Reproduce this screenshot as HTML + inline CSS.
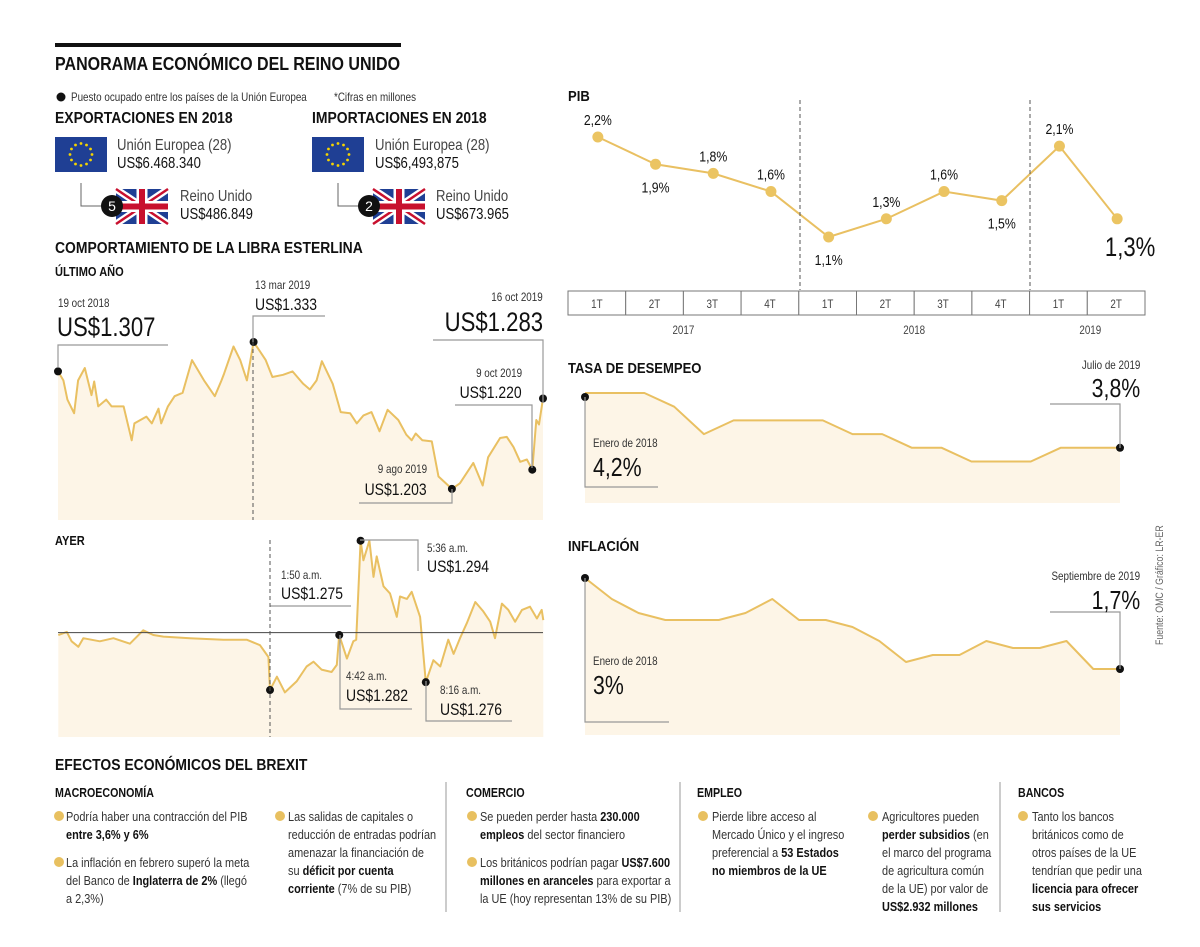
<!DOCTYPE html>
<html><head><meta charset="utf-8">
<style>
html,body{margin:0;padding:0;background:#fff;}
#root{position:relative;width:1200px;height:947px;overflow:hidden;font-family:"Liberation Sans",sans-serif;color:#111;}
.t{position:absolute;white-space:nowrap;line-height:1;transform:scaleX(0.82);transform-origin:left top;}
.b{font-weight:bold;}
.h{transform:scaleX(0.87);}
.r{text-align:right;transform-origin:right top;}
.sm{font-size:12px;color:#333;}
.bul{position:absolute;font-size:13px;line-height:18px;color:#333;white-space:nowrap;transform:scaleX(0.84);transform-origin:left top;}
.bul b{color:#111;}
.dot{position:absolute;width:10px;height:10px;border-radius:50%;background:#e8c060;}
svg text{font-family:"Liberation Sans",sans-serif;}
</style></head>
<body>
<div id="root">
<svg id="chart" width="1200" height="947" style="position:absolute;left:0;top:0">
  <rect x="55" y="43" width="346" height="4" fill="#111"/>
  <circle cx="61" cy="97" r="4.5" fill="#111"/>
  <g>
    <rect x="55" y="137" width="52" height="35" fill="#1f3f94"/>
    <g id="stars1" fill="#f5d400"></g>
  </g>
  <g>
    <rect x="312" y="137" width="52" height="35" fill="#1f3f94"/>
    <g id="stars2" fill="#f5d400"></g>
  </g>
  <g transform="translate(116,189)">
    <rect width="52" height="35" fill="#1f3f94"/>
    <path d="M0,0L52,35M52,0L0,35" stroke="#fff" stroke-width="7"/>
    <path d="M0,0L52,35M52,0L0,35" stroke="#c8102e" stroke-width="2.5"/>
    <path d="M26,0V35M0,17.5H52" stroke="#fff" stroke-width="11"/>
    <path d="M26,0V35M0,17.5H52" stroke="#c8102e" stroke-width="6"/>
  </g>
  <g transform="translate(373,189)">
    <rect width="52" height="35" fill="#1f3f94"/>
    <path d="M0,0L52,35M52,0L0,35" stroke="#fff" stroke-width="7"/>
    <path d="M0,0L52,35M52,0L0,35" stroke="#c8102e" stroke-width="2.5"/>
    <path d="M26,0V35M0,17.5H52" stroke="#fff" stroke-width="11"/>
    <path d="M26,0V35M0,17.5H52" stroke="#c8102e" stroke-width="6"/>
  </g>
  <path d="M81,183V206H104" fill="none" stroke="#666"/>
  <path d="M338,183V206H362" fill="none" stroke="#666"/>
  <circle cx="112" cy="206" r="11" fill="#111"/>
  <text x="112" y="211" fill="#fff" font-size="14" text-anchor="middle">5</text>
  <circle cx="369" cy="206" r="11" fill="#111"/>
  <text x="369" y="211" fill="#fff" font-size="14" text-anchor="middle">2</text>

  <g id="yearG"></g>
  <g id="dayG"></g>
  <g id="pibG"></g>
  <g id="unG"></g>
  <g id="infG"></g>

  <g fill="none" stroke="#999" stroke-width="1.2">
    <path d="M58,367V345H168"/>
    <path d="M253,342V316H325"/>
    <path d="M543,403V340H433"/>
    <path d="M532,468V405H455"/>
    <path d="M452,489V503H359"/>
    <path d="M270,606H351"/>
    <path d="M360,540H418V571"/>
    <path d="M340,635V709H412"/>
    <path d="M426,681V721H512"/>
    <path d="M585,397V487H658"/>
    <path d="M1120,448V404H1050"/>
    <path d="M585,578V722H669"/>
    <path d="M1120,669V612H1050"/>
    <path d="M446,782V912M680,782V912M1000,782V912" stroke="#aaa"/>
  </g>
  <g stroke="#555" stroke-dasharray="4,3" stroke-width="1">
    <path d="M253,342V520"/>
    <path d="M270,540V737"/>
    <path d="M800,100V290"/>
    <path d="M1030,100V290"/>
  </g>
  <text x="0" y="0" font-size="11" fill="#666" transform="translate(1163,645) rotate(-90) scale(0.8,1)">Fuente: OMC / Gráfico: LR-ER</text>
</svg>

<div class="t b" style="left:55px;top:55px;font-size:18px;transform:scaleX(0.89)">PANORAMA ECONÓMICO DEL REINO UNIDO</div>
<div class="t sm" style="left:71px;top:91px">Puesto ocupado entre los países de la Unión Europea</div>
<div class="t sm" style="left:334px;top:91px">*Cifras en millones</div>
<div class="t b h" style="left:55px;top:111px;font-size:16px">EXPORTACIONES EN 2018</div>
<div class="t b h" style="left:312px;top:111px;font-size:16px">IMPORTACIONES EN 2018</div>
<div class="t" style="left:117px;top:138px;font-size:16px;color:#444">Unión Europea (28)</div>
<div class="t" style="left:117px;top:156px;font-size:16px">US$6.468.340</div>
<div class="t" style="left:180px;top:189px;font-size:16px;color:#444">Reino Unido</div>
<div class="t" style="left:180px;top:207px;font-size:16px">US$486.849</div>
<div class="t" style="left:375px;top:138px;font-size:16px;color:#444">Unión Europea (28)</div>
<div class="t" style="left:375px;top:156px;font-size:16px">US$6,493,875</div>
<div class="t" style="left:436px;top:189px;font-size:16px;color:#444">Reino Unido</div>
<div class="t" style="left:436px;top:207px;font-size:16px">US$673.965</div>
<div class="t b h" style="left:55px;top:241px;font-size:16px">COMPORTAMIENTO DE LA LIBRA ESTERLINA</div>
<div class="t b h" style="left:55px;top:265px;font-size:13px;transform:scaleX(0.85)">ÚLTIMO AÑO</div>

<div class="t sm" style="left:58px;top:297px">19 oct 2018</div>
<div class="t" style="left:57px;top:314px;font-size:27px">US$1.307</div>
<div class="t sm" style="left:255px;top:279px">13 mar 2019</div>
<div class="t" style="left:255px;top:296px;font-size:17px">US$1.333</div>
<div class="t sm r" style="right:657px;top:291px">16 oct 2019</div>
<div class="t r" style="right:657px;top:309px;font-size:27px">US$1.283</div>
<div class="t sm r" style="right:678px;top:367px">9 oct 2019</div>
<div class="t r" style="right:678px;top:384px;font-size:17px">US$1.220</div>
<div class="t sm r" style="right:773px;top:463px">9 ago 2019</div>
<div class="t r" style="right:773px;top:481px;font-size:17px">US$1.203</div>

<div class="t b h" style="left:55px;top:534px;font-size:13px;transform:scaleX(0.85)">AYER</div>
<div class="t sm" style="left:281px;top:569px">1:50 a.m.</div>
<div class="t" style="left:281px;top:585px;font-size:17px">US$1.275</div>
<div class="t sm" style="left:427px;top:542px">5:36 a.m.</div>
<div class="t" style="left:427px;top:558px;font-size:17px">US$1.294</div>
<div class="t sm" style="left:346px;top:670px">4:42 a.m.</div>
<div class="t" style="left:346px;top:687px;font-size:17px">US$1.282</div>
<div class="t sm" style="left:440px;top:684px">8:16 a.m.</div>
<div class="t" style="left:440px;top:701px;font-size:17px">US$1.276</div>

<div class="t b h" style="left:568px;top:89px;font-size:15px">PIB</div>
<div class="t b h" style="left:568px;top:361px;font-size:15px">TASA DE DESEMPEO</div>
<div class="t sm r" style="right:60px;top:359px">Julio de 2019</div>
<div class="t r" style="right:60px;top:375px;font-size:26px">3,8%</div>
<div class="t sm" style="left:593px;top:437px">Enero de 2018</div>
<div class="t" style="left:593px;top:454px;font-size:26px">4,2%</div>
<div class="t b h" style="left:568px;top:539px;font-size:15px">INFLACIÓN</div>
<div class="t sm r" style="right:60px;top:570px">Septiembre de 2019</div>
<div class="t r" style="right:60px;top:587px;font-size:26px">1,7%</div>
<div class="t sm" style="left:593px;top:655px">Enero de 2018</div>
<div class="t" style="left:593px;top:672px;font-size:26px">3%</div>

<div class="t b h" style="left:55px;top:758px;font-size:16px">EFECTOS ECONÓMICOS DEL BREXIT</div>
<div class="t b" style="left:55px;top:786px;font-size:13px">MACROECONOMÍA</div>
<div class="t b" style="left:466px;top:786px;font-size:13px">COMERCIO</div>
<div class="t b" style="left:697px;top:786px;font-size:13px">EMPLEO</div>
<div class="t b" style="left:1018px;top:786px;font-size:13px">BANCOS</div>

<div class="dot" style="left:54px;top:811px"></div>
<div class="bul" style="left:66px;top:808px">Podría haber una contracción del PIB<br><b>entre 3,6% y 6%</b></div>
<div class="dot" style="left:54px;top:857px"></div>
<div class="bul" style="left:66px;top:854px">La inflación en febrero superó la meta<br>del Banco de <b>Inglaterra de 2%</b> (llegó<br>a 2,3%)</div>
<div class="dot" style="left:275px;top:811px"></div>
<div class="bul" style="left:288px;top:808px">Las salidas de capitales o<br>reducción de entradas podrían<br>amenazar la financiación de<br>su <b>déficit por cuenta<br>corriente</b> (7% de su PIB)</div>
<div class="dot" style="left:467px;top:811px"></div>
<div class="bul" style="left:480px;top:808px">Se pueden perder hasta <b>230.000<br>empleos</b> del sector financiero</div>
<div class="dot" style="left:467px;top:857px"></div>
<div class="bul" style="left:480px;top:854px">Los británicos podrían pagar <b>US$7.600<br>millones en aranceles</b> para exportar a<br>la UE (hoy representan 13% de su PIB)</div>
<div class="dot" style="left:698px;top:811px"></div>
<div class="bul" style="left:712px;top:808px">Pierde libre acceso al<br>Mercado Único y el ingreso<br>preferencial a <b>53 Estados<br>no miembros de la UE</b></div>
<div class="dot" style="left:868px;top:811px"></div>
<div class="bul" style="left:882px;top:808px">Agricultores pueden<br><b>perder subsidios</b> (en<br>el marco del programa<br>de agricultura común<br>de la UE) por valor de<br><b>US$2.932 millones</b></div>
<div class="dot" style="left:1018px;top:811px"></div>
<div class="bul" style="left:1032px;top:808px">Tanto los bancos<br>británicos como de<br>otros países de la UE<br>tendrían que pedir una<br><b>licencia para ofrecer<br>sus servicios</b></div>
</div>

<script>
// ---- data ----
const yearDays = [0,4,7,12,15,20,25,27,30,36,40,49,55,57,66,70,75,77,82,87,93,100,109,117,122,124,131,136,141,146,150,155,160,168,175,183,188,193,197,205,211,218,223,228,234,240,246,254,260,264,267,272,279,284,294,300,310,317,321,330,335,340,345,350,354,357,359,362];
const yearValues = [1.307,1.299,1.282,1.270,1.299,1.310,1.286,1.298,1.276,1.282,1.276,1.276,1.246,1.261,1.267,1.261,1.274,1.261,1.276,1.285,1.288,1.317,1.299,1.285,1.299,1.305,1.329,1.317,1.299,1.333,1.326,1.317,1.302,1.304,1.307,1.296,1.291,1.299,1.316,1.296,1.271,1.270,1.261,1.268,1.271,1.254,1.273,1.264,1.251,1.246,1.252,1.246,1.245,1.214,1.203,1.208,1.226,1.206,1.231,1.248,1.249,1.240,1.227,1.229,1.220,1.264,1.260,1.283];
const dayMinutes = [-416,-395,-383,-366,-354,-313,-279,-238,-205,-180,-155,-89,-6,52,85,106,110,127,147,176,201,218,238,263,276,282,301,317,324,335,342,357,367,375,392,408,425,433,450,462,483,497,516,533,553,566,582,599,620,640,657,669,686,702,719,736,756,773,785,789];
const dayValues = [1.2820,1.2824,1.2812,1.2805,1.2816,1.2812,1.2816,1.2809,1.2826,1.2820,1.2818,1.2816,1.2814,1.2814,1.2807,1.2792,1.2750,1.2767,1.2747,1.2761,1.2780,1.2786,1.2776,1.2773,1.2782,1.2820,1.2790,1.2812,1.2814,1.2940,1.2915,1.2940,1.2894,1.2920,1.2882,1.2873,1.2843,1.2869,1.2866,1.2875,1.2843,1.2760,1.2788,1.2780,1.2814,1.2796,1.2816,1.2835,1.2862,1.2850,1.2837,1.2816,1.2860,1.2852,1.2837,1.2852,1.2856,1.2841,1.2852,1.2839];
const dayRef = 1.2823;
const pibQuarters = ["1T","2T","3T","4T","1T","2T","3T","4T","1T","2T"];
const pibValues = [2.2,1.9,1.8,1.6,1.1,1.3,1.6,1.5,2.1,1.3];
const pibLabelPos = ["above","below","above","above","below","above","above","below","above","big"];
const pibYears = ["2017","2018","2019"];
const unempValues = [4.2,4.2,4.2,4.1,3.9,4.0,4.0,4.0,4.0,3.9,3.9,3.8,3.8,3.7,3.7,3.7,3.8,3.8,3.8];
const inflValues = [3.0,2.7,2.5,2.4,2.4,2.4,2.5,2.7,2.4,2.4,2.3,2.1,1.8,1.9,1.9,2.1,2.0,2.0,2.1,1.7,1.7];

// ---- helpers ----
const NS = "http://www.w3.org/2000/svg";
function mk(tag, attrs, parent){const e=document.createElementNS(NS,tag);for(const k in attrs)e.setAttribute(k,attrs[k]);parent.appendChild(e);return e;}
function txt(g,x,y,size,anchor,str,fill){const t=mk("text",{x:0,y:0,"font-size":size,fill:fill||"#111","text-anchor":anchor,transform:"translate("+x+","+y+") scale(0.82,1)"},g);t.textContent=str;return t;}
const LINE="#e9c062", FILL="#fdf5e7";
function drawArea(g, xs, ys, bottom, name){
  let d="M"+xs[0]+","+ys[0];
  for(let i=1;i<xs.length;i++) d+="L"+xs[i].toFixed(1)+","+ys[i].toFixed(1);
  const a=mk("path",{d:d+"L"+xs[xs.length-1]+","+bottom+"L"+xs[0]+","+bottom+"Z",fill:FILL},g);
  
  
  const l=mk("path",{d:d,fill:"none",stroke:LINE,"stroke-width":2,"stroke-linejoin":"round"},g);
  
  
}
function blackDot(g,x,y){const c=mk("circle",{cx:x,cy:y,r:4,fill:"#111"},g);
  
  }

(function(){
  const g=document.getElementById("yearG");
  const xS=d=>58+d*(485/362), yS=v=>342+(1.333-v)*1130;
  const xs=yearDays.map(xS), ys=yearValues.map(yS);
  drawArea(g,xs,ys,520,"sterling-year");
  [0,29,54,64,67].forEach(i=>blackDot(g,xs[i],ys[i]));
})();
(function(){
  const g=document.getElementById("dayG");
  const xS=m=>58.3+(m+416)*0.4025, yS=v=>540.7+(1.294-v)*7860;
  const xs=dayMinutes.map(xS), ys=dayValues.map(yS);
  drawArea(g,xs,ys,737,"sterling-day");
  const r=mk("line",{x1:58,x2:543,y1:yS(dayRef),y2:yS(dayRef),stroke:"#444","stroke-width":1},g);
  
  
  [16,25,29,41].forEach(i=>blackDot(g,xs[i],ys[i]));
})();
(function(){
  const g=document.getElementById("pibG");
  const cw=57.7, x0=568;
  const xS=i=>x0+cw*i+cw/2+1, yS=v=>137+(2.2-v)*90.9;
  pibQuarters.forEach((q,i)=>{
    const r=mk("rect",{x:x0+cw*i,y:291,width:cw,height:24,fill:"#fff",stroke:"#777","stroke-width":1},g);
    
    
    const t=txt(g,x0+cw*i+cw/2,308,12,"middle",q,"#444");
    
    
  });
  const yc=[x0+cw*2,x0+cw*6,x0+cw*9];
  pibYears.forEach((y,i)=>{const t=txt(g,yc[i]+(i==2?3:0),334,12,"middle",y,"#444");
    
    });
  const pts=pibValues.map((v,i)=>xS(i)+","+yS(v)).join(" ");
  const pl=mk("polyline",{points:pts,fill:"none",stroke:LINE,"stroke-width":2},g);
  
  
  pibValues.forEach((v,i)=>{
    const c=mk("circle",{cx:xS(i),cy:yS(v),r:5.5,fill:"#ebc462"},g);
    
    
    const pos=pibLabelPos[i];
    const lbl=v.toFixed(1).replace(".",",")+"%";
    const t=txt(g,xS(i)+(pos=="big"?13:0),pos=="above"?yS(v)-12:pos=="below"?yS(v)+28:yS(v)+37,pos=="big"?27:15,"middle",lbl);
    
    
  });
})();
function monthly(id,vals,top,topV,scale,bottom,name){
  const g=document.getElementById(id);
  const n=vals.length, xS=i=>585+i*(535/(n-1)), yS=v=>top+(topV-v)*scale;
  drawArea(g,vals.map((v,i)=>xS(i)),vals.map(yS),bottom,name);
  blackDot(g,xS(0),id=="unG"?397:yS(vals[0]));
  blackDot(g,xS(n-1),yS(vals[n-1]));
}
monthly("unG",unempValues,393,4.2,137,503,"unemployment");
monthly("infG",inflValues,578,3.0,70,735,"inflation");
["stars1","stars2"].forEach((id,k)=>{
  const g=document.getElementById(id), cx=(k?312:55)+26, cy=154.5;
  for(let i=0;i<12;i++){const a=i*Math.PI/6;
    const s=mk("circle",{cx:cx+11*Math.cos(a),cy:cy+11*Math.sin(a),r:1.4},g);
    
    }
});
</script>
</body></html>
